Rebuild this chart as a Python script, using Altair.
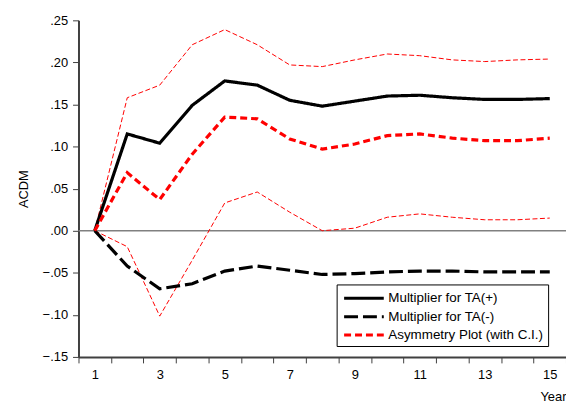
import altair as alt
import pandas as pd

years = list(range(1, 16))
ta_pos = [0.0, 0.115, 0.104, 0.149, 0.178, 0.173, 0.155, 0.148, 0.154, 0.160, 0.161, 0.158, 0.156, 0.156, 0.157]
ta_neg = [0.0, -0.042, -0.069, -0.063, -0.048, -0.042, -0.047, -0.052, -0.051, -0.049, -0.048, -0.048, -0.049, -0.049, -0.049]
asym = [0.0, 0.069, 0.037, 0.091, 0.135, 0.133, 0.109, 0.097, 0.103, 0.113, 0.115, 0.110, 0.107, 0.107, 0.110]
ci_upper = [0.0, 0.158, 0.173, 0.221, 0.239, 0.221, 0.197, 0.195, 0.203, 0.210, 0.208, 0.203, 0.201, 0.203, 0.204]
ci_lower = [0.0, -0.019, -0.1015, -0.035, 0.033, 0.046, 0.022, 0.0, 0.003, 0.016, 0.020, 0.016, 0.013, 0.013, 0.015]

series_names = ["Multiplier for TA(+)", "Multiplier for TA(-)", "Asymmetry Plot (with C.I.)"]
series_colors = ["#000000", "#000000", "#ff0000"]
series_dashes = [[1, 0], [14, 5], [7, 4]]

x_tick_values = [i + 0.5 for i in range(16)]
y_tick_values = [-0.15, -0.10, -0.05, 0.0, 0.05, 0.10, 0.15, 0.20, 0.25]

main_df = pd.DataFrame({
    "Year": years * 3,
    "value": ta_pos + ta_neg + asym,
    "series": [n for n in series_names for _ in years],
})
ci_df = pd.DataFrame({
    "Year": years * 2,
    "value": ci_upper + ci_lower,
    "band": ["upper"] * len(years) + ["lower"] * len(years),
})
zero_df = pd.DataFrame({"y": [0.0]})

FONT = "Liberation Sans"

x_enc = alt.X(
    "Year:Q",
    scale=alt.Scale(domain=[0.5, 15.5], nice=False, zero=False),
    axis=alt.Axis(
        values=x_tick_values,
        labelExpr="(datum.value + 0.5) % 2 == 1 ? format(datum.value + 0.5, 'd') : ''",
        labelOffset=16.37,
        labelOverlap=False,
        labelFlush=False,
        labelBound=False,
        labelPadding=6,
        title="Year",
        titleAnchor="end",
        titleAlign="right",
        titleBaseline="bottom",
        titleX=491,
        titleY=47,
    ),
)
y_enc = alt.Y(
    "value:Q",
    scale=alt.Scale(domain=[-0.15, 0.25], nice=False, zero=False),
    axis=alt.Axis(
        values=y_tick_values,
        labelExpr="replace(format(datum.value, '.2f'), '0.', '.')",
        labelPadding=5,
        title="ACDM",
        titleX=-55,
        titleY=169.5,
        titleAngle=270,
        titleAlign="center",
        titleBaseline="middle",
    ),
)

zero_rule = alt.Chart(zero_df).mark_rule(color="#808080", strokeWidth=1.5).encode(y="y:Q")

ci_lines = alt.Chart(ci_df).mark_line(
    color="#ff0000", strokeWidth=1, strokeDash=[5, 2.5]
).encode(x=x_enc, y=y_enc, detail="band:N")

main_lines = alt.Chart(main_df).mark_line(strokeWidth=3.2).encode(
    x=x_enc,
    y=y_enc,
    color=alt.Color(
        "series:N",
        scale=alt.Scale(domain=series_names, range=series_colors),
        legend=alt.Legend(title=None),
    ),
    strokeDash=alt.StrokeDash(
        "series:N",
        scale=alt.Scale(domain=series_names, range=series_dashes),
        legend=alt.Legend(title=None),
    ),
)

chart = alt.layer(zero_rule, ci_lines, main_lines).properties(
    width=491,
    height=339,
    autosize=alt.AutoSizeParams(type="none"),
    padding={"left": 71, "top": 11, "right": 0, "bottom": 48},
).configure(
    font=FONT,
).configure_view(
    stroke=None,
).configure_axis(
    grid=False,
    domainColor="#404040",
    domainWidth=2,
    tickColor="#404040",
    tickWidth=1,
    tickSize=6,
    labelFont=FONT,
    labelFontSize=13,
    labelColor="#000000",
    titleFont=FONT,
    titleFontSize=13,
    titleFontWeight="normal",
    titleColor="#000000",
).configure_legend(
    orient="none",
    legendX=260,
    legendY=266,
    strokeColor="#000000",
    fillColor="#ffffff",
    padding=4,
    symbolType="M-2.35,0H2.35",
    symbolSize=289,
    symbolStrokeWidth=3,
    symbolOffset=13.5,
    labelOffset=14.5,
    labelFont=FONT,
    labelFontSize=13.5,
    labelColor="#000000",
    labelLimit=400,
    rowPadding=1.5,
)

chart.save("out.html", embed_options={"renderer": "svg", "actions": False})
